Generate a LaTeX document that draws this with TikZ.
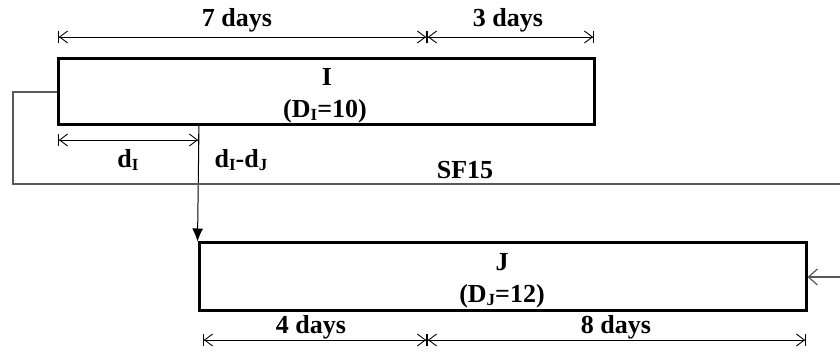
\documentclass[tikz,border=0pt]{standalone}
\usepackage{fontspec}
\setmainfont{Liberation Serif}
\usetikzlibrary{arrows.meta}
\newcommand{\mysub}[1]{\raisebox{-0.3ex}{\fontsize{17}{20}\selectfont #1}}
\begin{document}
\begin{tikzpicture}[x=1pt,y=-1pt,
  every node/.style={font=\fontsize{26}{30}\selectfont\bfseries, inner sep=0pt},
  act/.style={draw, line width=3pt, minimum width=#1, minimum height=66pt, inner sep=0pt},
  dimline/.style={line width=0.9pt, {Bar[width=12pt]Straight Barb[length=8pt,width=12pt]}-{Straight Barb[length=8pt,width=12pt]Bar[width=12pt]}},
  lagline/.style={line width=1.2pt, draw=black!65},
  lbl/.style={anchor=center}
]
\useasboundingbox (0,0) rectangle (840,352);
% activity boxes
\node[act=536pt] (I) at (326,92) {};
\node[act=607pt, minimum height=68pt] (J) at (502.5,277) {};
\node[lbl] (Ia) at (327,77) {I};
\node[lbl] (Ib) at (325,111) {(D\mysub{I}=10)};
\node[lbl] (Ja) at (502,262) {J};
\node[lbl] (Jb) at (502,296) {(D\mysub{J}=12)};
% top dimensions
\coordinate (t1) at (58,37);
\coordinate (t2) at (427,37);
\coordinate (t3) at (594,37);
\draw[dimline] (t1) -- (t2);
\draw[dimline] (t2) -- (t3);
\node[lbl] (d7) at (237,20) {7 days};
\node[lbl] (d3) at (508,20) {3 days};
% d_I dimension
\coordinate (a1) at (58,140);
\coordinate (a2) at (199,140);
\draw[dimline] (a1) -- (a2);
\node[lbl] (dI) at (128,160) {d\mysub{I}};
\node[lbl] (dIJ) at (241,160) {d\mysub{I}-d\mysub{J}};
% lag connection I -> J
\coordinate (split) at (199,125);
\draw[line width=1pt, -{Latex[length=13pt,width=11pt]}] (split) -- (J.north west);
% SF15 connection
\coordinate (c1) at (13,92);
\coordinate (c2) at (13,184);
\coordinate (c3) at (840,184);
\coordinate (c4) at (840,277);
\draw[lagline] (I.west) -- (c1) -- (c2) -- (c3);
\draw[lagline, -{Straight Barb[length=9pt,width=16pt]}] (c4) -- (J.east);
\node[lbl] (sf) at (465,170) {SF15};
% bottom dimensions
\coordinate (b1) at (203,340);
\coordinate (b2) at (427,340);
\coordinate (b3) at (806,340);
\draw[dimline] (b1) -- (b2);
\draw[dimline] (b2) -- (b3);
\node[lbl] (d4) at (311,327) {4 days};
\node[lbl] (d8) at (616,327) {8 days};
\end{tikzpicture}
\end{document}
